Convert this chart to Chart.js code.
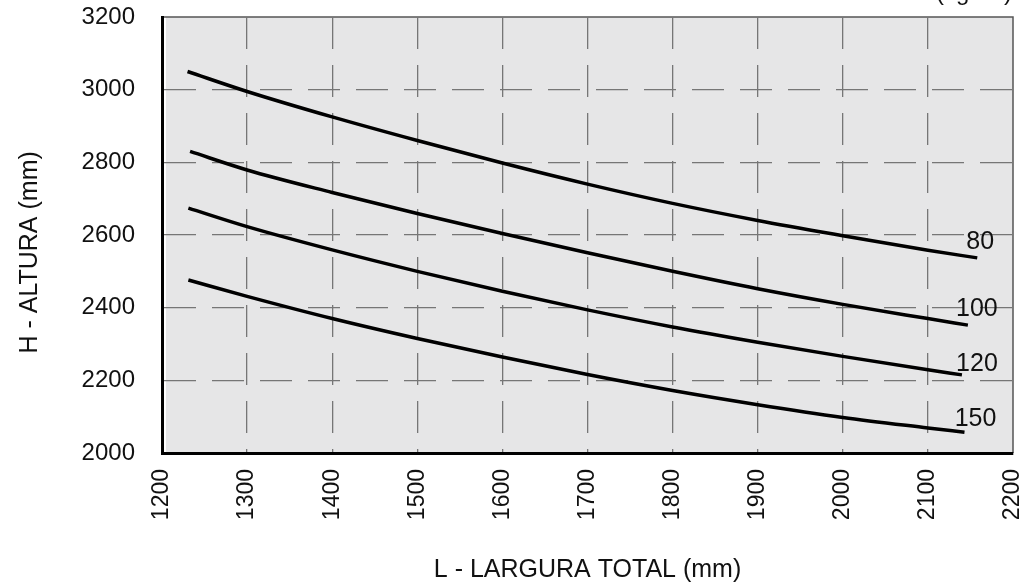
<!DOCTYPE html>
<html>
<head>
<meta charset="utf-8">
<script src="https://cdn.jsdelivr.net/npm/chart.js@4"></script>
<style>
	html, body { margin: 0; padding: 0; background: #fff; }
	#wrap { width: 1021px; height: 585px; position: relative; }
</style>
</head>
<body>
<div id="wrap"><canvas id="alturaChart"></canvas></div>
<script>
// curvas H x L para cada carga (kg/m²)
const cargas = ['80', '100', '120', '150'];

const x80 = [1230, 1300, 1400, 1500, 1600, 1700, 1800, 1900, 2000, 2100, 2158];
const y80 = [3050, 2995, 2925, 2860, 2798, 2740, 2687, 2640, 2598, 2558, 2537];

const x100 = [1233, 1300, 1400, 1500, 1600, 1700, 1800, 1900, 2000, 2100, 2147];
const y100 = [2830, 2779, 2717, 2659, 2604, 2551, 2500, 2452, 2409, 2370, 2352];

const x120 = [1231, 1300, 1400, 1500, 1600, 1700, 1800, 1900, 2000, 2100, 2140];
const y120 = [2674, 2623, 2559, 2500, 2445, 2394, 2347, 2305, 2266, 2229, 2215];

const x150 = [1231, 1300, 1400, 1500, 1600, 1700, 1800, 1900, 2000, 2100, 2143];
const y150 = [2476, 2431, 2370, 2315, 2264, 2216, 2172, 2133, 2098, 2069, 2057];

const xTicks = [1200, 1300, 1400, 1500, 1600, 1700, 1800, 1900, 2000, 2100, 2200];
const yTicks = [2000, 2200, 2400, 2600, 2800, 3000, 3200];

function pontos(xs, ys) {
	return xs.map(function(v, i) { return { x: v, y: ys[i] }; });
}

const series = [pontos(x80, y80), pontos(x100, y100), pontos(x120, y120), pontos(x150, y150)];

// deslocamento do rótulo em relação ao fim da curva
const labelOffsets = [[3, -16], [9, -16], [15, -11], [11, -13]];

const plotBg = {
	id: 'plotBg',
	beforeDraw(chart) {
		const { ctx, chartArea: a } = chart;
		ctx.save();
		ctx.fillStyle = '#e6e6e7';
		ctx.fillRect(a.left + 4, a.top, a.right - a.left - 4, a.bottom - a.top - 1);
		ctx.strokeStyle = '#555';
		ctx.lineWidth = 1.5;
		ctx.beginPath();
		ctx.moveTo(a.left, a.top);
		ctx.lineTo(a.right, a.top);
		ctx.lineTo(a.right, a.bottom);
		ctx.stroke();
		ctx.restore();
	},
	afterDraw(chart) {
		const ctx = chart.ctx;
		ctx.save();
		ctx.fillStyle = '#111';
		ctx.font = '24px "Liberation Sans", Arial, sans-serif';
		ctx.textAlign = 'right';
		ctx.textBaseline = 'alphabetic';
		ctx.fillText('(kg/m²)', 1012, 0);
		ctx.restore();
	}
};

const curveLabels = {
	id: 'curveLabels',
	afterDatasetsDraw(chart) {
		const ctx = chart.ctx;
		ctx.save();
		ctx.fillStyle = '#111';
		ctx.font = '25px "Liberation Sans", Arial, sans-serif';
		ctx.textAlign = 'center';
		ctx.textBaseline = 'middle';
		chart.data.datasets.forEach(function(ds, i) {
			const pts = chart.getDatasetMeta(i).data;
			const last = pts[pts.length - 1];
			ctx.fillText(ds.label, last.x + labelOffsets[i][0], last.y + labelOffsets[i][1]);
		});
		ctx.restore();
	}
};

function gridColor(ticks) {
	return function(c) {
		return (c.index === 0 || c.index === ticks.length - 1) ? 'rgba(0,0,0,0)' : '#767676';
	};
}

const fonte = '"Liberation Sans", Arial, sans-serif';

const ctx = document.getElementById('alturaChart');
new Chart(ctx, {
	type: 'line',
	data: {
		datasets: series.map(function(pts, i) {
			return {
				label: cargas[i],
				data: pts,
				borderColor: '#000',
				borderWidth: 3.5,
				pointRadius: 0,
				fill: false,
				cubicInterpolationMode: 'monotone'
			};
		})
	},
	options: {
		responsive: true,
		maintainAspectRatio: false,
		animation: false,
		layout: { padding: { top: 17, right: 8, left: 0, bottom: 0 } },
		plugins: {
			legend: { display: false },
			tooltip: { enabled: false }
		},
		scales: {
			x: {
				type: 'linear',
				min: 1200,
				max: 2200,
				afterBuildTicks(scale) {
					scale.ticks = xTicks.map(function(v) { return { value: v }; });
				},
				afterFit(scale) {
					scale.height = 132;
					scale.paddingLeft = 0;
					scale.paddingRight = 0;
				},
				ticks: {
					minRotation: 90,
					maxRotation: 90,
					padding: 16,
					color: '#111',
					font: { family: fonte, size: 23 },
					callback: function(v) { return String(v); }
				},
				grid: {
					color: gridColor(xTicks),
					lineWidth: 1.3,
					drawTicks: false
				},
				border: { display: true, color: '#000', width: 3, dash: [32, 16] },
				title: {
					display: true,
					text: 'L - LARGURA TOTAL (mm)',
					color: '#111',
					padding: { top: 0, bottom: 0 },
					font: { family: fonte, size: 25 }
				}
			},
			y: {
				type: 'linear',
				min: 2000,
				max: 3200,
				afterBuildTicks(scale) {
					scale.ticks = yTicks.map(function(v) { return { value: v }; });
				},
				afterFit(scale) {
					scale.width = 162;
					scale.paddingTop = 0;
					scale.paddingBottom = 0;
				},
				ticks: {
					padding: 27,
					color: '#111',
					font: { family: fonte, size: 24 },
					callback: function(v) { return String(v); }
				},
				grid: {
					color: gridColor(yTicks),
					lineWidth: 1.3,
					drawTicks: false
				},
				border: { display: true, color: '#000', width: 3, dash: [32, 16] },
				title: {
					display: true,
					text: 'H - ALTURA (mm)     ',
					color: '#111',
					padding: { top: 15, bottom: 0 },
					font: { family: fonte, size: 25 }
				}
			}
		}
	},
	plugins: [plotBg, curveLabels]
});
</script>
</body>
</html>
